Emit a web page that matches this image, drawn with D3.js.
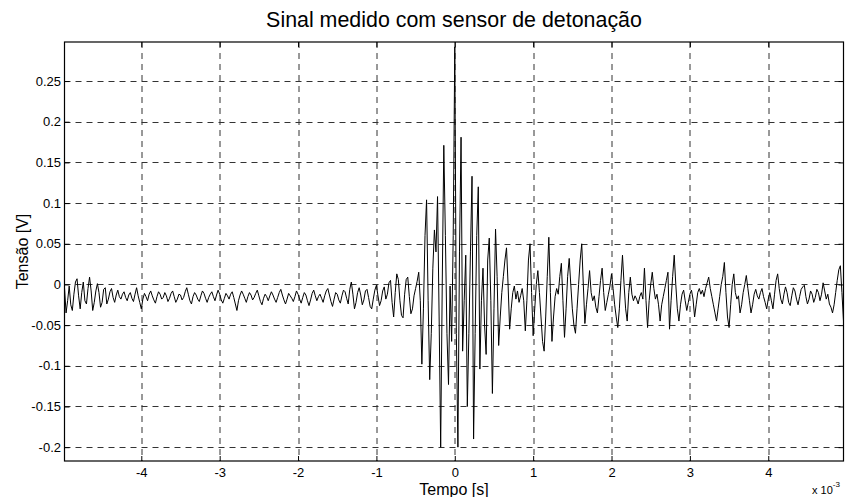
<!DOCTYPE html>
<html>
<head>
<meta charset="utf-8">
<script src="https://cdn.jsdelivr.net/npm/d3@7"></script>
<style>
  body { margin: 0; background: #fff; }
  text { font-family: "Liberation Sans", Arial, Helvetica, sans-serif; fill: #000; }
</style>
</head>
<body>
<svg id="chart" width="846" height="497"></svg>
<script>
// Sampling grid of the recorded signal (seconds)
const tStart = -4.98e-3;
const tStep = 0.02e-3;

// Signal values in mV, one per sample, split by region
const leadIn = [
  -4, -35, -20, -2, -25, -32, -12, 3, 7, -14,
  -30, -10, 3, -20, -24, -5, 9, -8, -32, -22,
  -8, 1, -10, -28, -22, -6, -4, -24, -18, -9,
  -5, -16, -22, -13, -7, -15
];
const quiet = [
  -18, -12, -9, -16, -20, -13, -10, -17, -21, -12,
  -4, -14, -22, -30, -18, -11, -15, -20, -12, -8,
  -14, -19, -23, -15, -9, -12, -18, -16, -10, -14,
  -21, -17, -11, -8, -15, -22, -18, -12, -13, -19,
  -16, -9, -4, -12, -20, -24, -15, -10, -13, -18,
  -21, -14, -8, -11, -17, -22, -16, -12, -9, -15,
  -20, -13, -7, -12, -19, -23, -17, -11, -14, -18,
  -12, -9, -16, -24, -32, -20, -13, -8, -12, -17,
  -22, -15, -10, -13, -19, -16, -11, -7, -14, -21,
  -25, -17, -12, -15, -20, -14, -9, -13, -18, -22,
  -16, -10, -6, -13, -19, -24, -18, -11, -14, -17,
  -21, -15, -8, -12, -18, -23, -16, -10, -13, -20,
  -26, -19, -11, -7, -14, -20, -15, -12, -17, -22,
  -14, -8, -5, -13, -21, -27, -18, -10, -12, -19,
  -23, -14, -7, -9, -17, -24, -6, 3, -12, -30,
  -22, -10, -4, -13, -25, -19, -8, -6, -16, -27,
  -30, -18, -7, -1, -14, -26
];
const rise = [
  -20, -8, -3, -18, -12, 2, 5, -22, -40, -10,
  13, 6, -20, -38, -41, -12, 6, 9, -15, -36,
  -30, -14, -5, 4, 15, -20
];
const burst = [
  -98, -30, 60, 104, -20, -117, -60, 20, 67, 40,
  108, -40, -200, 0, 171, 60, -60, -123, -2, -70,
  60, 292, -60, -200, 40, 181, -82, -20, 36, -150,
  -60, 40, 133, -190, -60, 60, 120, -104, -20, 20,
  -50, -86, 30, 57, -20, -134, -30, 68, 10, -75
];
const decay = [
  -40, -10, 10, 30, 45, 0, -55, -30, -10, -2,
  -18, -8, -22, -14, -5, -20, -57, -20, 30, 50,
  -10, -63, -30, 0, 17, -10, -40, -70, -82, -40,
  10, 58, -10, -70, -40, -15, -5, -12, 10, 26,
  -20, -65, -30, 10, 32, 0, -30, -50, -60, -30,
  0, 30, 50, 0, -48, -25, -5, 17, -10, -20,
  -14, -28, -35, -15, 5, 20, -10, -32, -22, -12,
  -2, 13, -5, -25, -40, -53, -30, 5, 36, 0,
  -30, -45, -10, 9, -12, -20, -14, -18, -24, -15,
  -10, -18, 20, -20, -53, -20, 0, 15, -5, -18,
  -12, -25, -45, -25, -15, -5, 5, 15, -55, -20,
  10, 36, 0, -30, -45, -25, -12, -7, -20, -32,
  -22, -12, -7, -18, -40, -25, -10, -5, -12, -7,
  -15, -5, 2, 9, -5, -15, -25, -35, -45, -30,
  -15, 0, 10, 27, -10, -40, -53, -25, 0, 13,
  -10, -18, -14, -35, -25, -10, 0, 11, -5, -20,
  -35, -25, -12, -6, -14, -18, -10, -5, -15, -22,
  -30, -18, -10, -20, -30, -12, 5, 13, -5, -18,
  -24, -12, -3, -10, -22, -26, -14, -4, -8, -18,
  -25, -15, -6, -3, -1, -15, -24, -18, -8, -12,
  -22, -16, -6, -10, -20, -12, 2, -8, -18, -12,
  -24, -28, -35, -25, -10, 5, 18, 23, -10, -45
];

// Tick positions
const xTicks = [-4e-3, -3e-3, -2e-3, -1e-3, 0, 1e-3, 2e-3, 3e-3, 4e-3];
const yTicks = [-0.2, -0.15, -0.1, -0.05, 0, 0.05, 0.1, 0.15, 0.2, 0.25];
const yLimits = [-0.217, 0.298];

const signal = [].concat(leadIn, quiet, rise, burst, decay)
  .map((mv, i) => ({ t: tStart + i * tStep, v: mv / 1000 }));

const margin = { top: 42, right: 2.5, bottom: 36, left: 64.5 };
const W = 846, H = 497;
const width = W - margin.left - margin.right;
const height = H - margin.top - margin.bottom;

const svg = d3.select("#chart");
const g = svg.append("g")
  .attr("transform", `translate(${margin.left},${margin.top})`);

const x = d3.scaleLinear()
  .domain(d3.extent(signal, d => d.t))
  .range([0, width]);
const y = d3.scaleLinear()
  .domain(yLimits)
  .range([height, 0]);

// dashed grid
g.append("g")
  .selectAll("line")
  .data(xTicks)
  .join("line")
  .attr("x1", d => Math.round(x(d)) + 0.5)
  .attr("x2", d => Math.round(x(d)) + 0.5)
  .attr("y1", 0)
  .attr("y2", height)
  .attr("stroke", "#333")
  .attr("stroke-dasharray", "6,5");
g.append("g")
  .selectAll("line")
  .data(yTicks)
  .join("line")
  .attr("y1", d => Math.round(y(d)) + 0.5)
  .attr("y2", d => Math.round(y(d)) + 0.5)
  .attr("x1", 0)
  .attr("x2", width)
  .attr("stroke", "#333")
  .attr("stroke-dasharray", "6,5");

// signal trace
const line = d3.line()
  .x(d => x(d.t))
  .y(d => y(d.v));
g.append("path")
  .datum(signal)
  .attr("fill", "none")
  .attr("stroke", "#000")
  .attr("stroke-width", 1)
  .attr("stroke-linejoin", "round")
  .attr("d", line);

// axes with inward ticks, on all four sides
const tickLen = 5;
const xAxisB = d3.axisBottom(x).tickValues(xTicks).tickSizeInner(-tickLen).tickSizeOuter(0)
  .tickFormat(d => String(Math.round(d * 1e3))).tickPadding(7);
const xAxisT = d3.axisTop(x).tickValues(xTicks).tickSizeInner(-tickLen).tickSizeOuter(0).tickFormat("");
const yAxisL = d3.axisLeft(y).tickValues(yTicks).tickSizeInner(-tickLen).tickSizeOuter(0)
  .tickFormat(d => String(+d.toFixed(2))).tickPadding(3.5);
const yAxisR = d3.axisRight(y).tickValues(yTicks).tickSizeInner(-tickLen).tickSizeOuter(0).tickFormat("");

g.append("g").attr("transform", `translate(0,${height})`).call(xAxisB);
g.append("g").call(xAxisT);
g.append("g").call(yAxisL);
g.append("g").attr("transform", `translate(${width},0)`).call(yAxisR);

g.selectAll(".domain").remove();
g.selectAll(".tick line").attr("stroke", "#000");
g.selectAll(".tick text")
  .style("font-family", "'Liberation Sans', Arial, sans-serif")
  .style("font-size", "13px")
  .attr("fill", "#000");

// frame
g.append("rect")
  .attr("x", 0)
  .attr("y", 0)
  .attr("width", width)
  .attr("height", height)
  .attr("fill", "none")
  .attr("stroke", "#000")
  .attr("stroke-width", 1.2);

// title and labels
svg.append("text")
  .attr("x", margin.left + width / 2)
  .attr("y", 27)
  .attr("text-anchor", "middle")
  .style("font-size", "21.4px")
  .text("Sinal medido com sensor de detonação");

svg.append("text")
  .attr("x", margin.left + width / 2)
  .attr("y", 495)
  .attr("text-anchor", "middle")
  .style("font-size", "16px")
  .text("Tempo [s]");

svg.append("text")
  .attr("transform", `translate(28,${margin.top + height / 2}) rotate(-90)`)
  .attr("text-anchor", "middle")
  .style("font-size", "16px")
  .text("Tensão [V]");

// exponent note for the time axis
const expo = svg.append("text")
  .attr("x", 812)
  .attr("y", 494)
  .style("font-size", "11px");
expo.append("tspan").text("x 10");
expo.append("tspan")
  .attr("dy", -7)
  .style("font-size", "8px")
  .text("-3");
</script>
</body>
</html>
